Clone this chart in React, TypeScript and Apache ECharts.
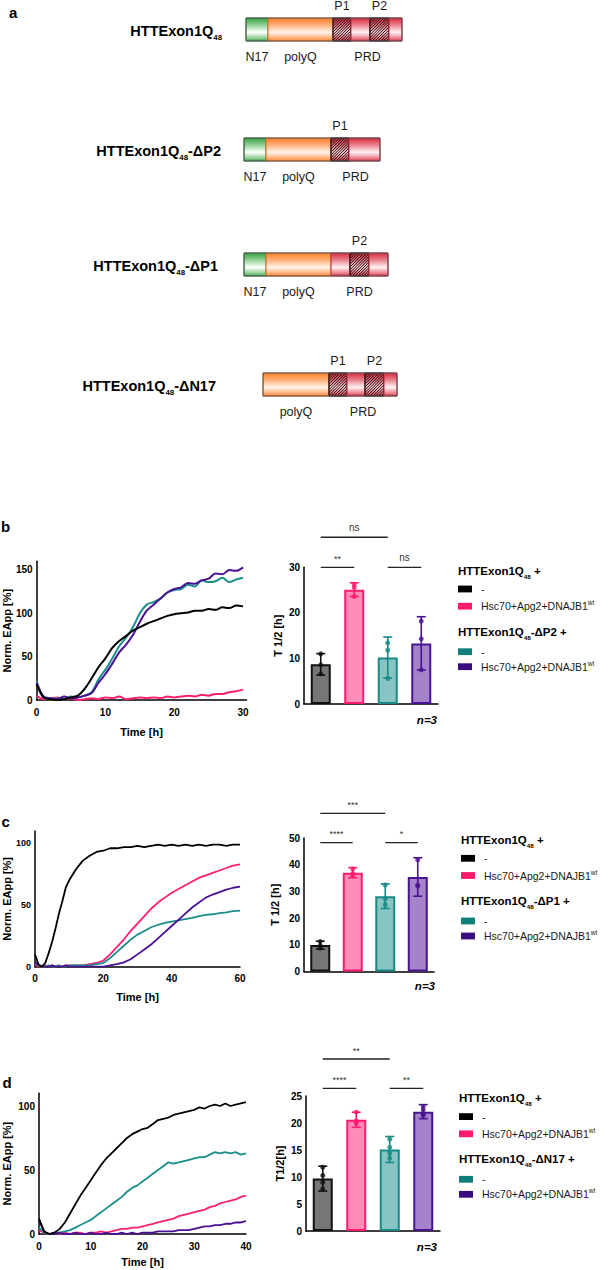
import React, { useEffect, useRef } from "react";
import * as echarts from "echarts";

const FONT = "'Liberation Sans', Arial, Helvetica, sans-serif";

// ---------------- Panel a: construct domain maps ----------------
const constructSuffixes = ["", "-ΔP2", "-ΔP1", "-ΔN17"];
const constructDomains = [
  ["N17", "polyQ", "P1", "PRD", "P2", "PRD"],
  ["N17", "polyQ", "P1", "PRD"],
  ["N17", "polyQ", "PRD", "P2", "PRD"],
  ["polyQ", "P1", "PRD", "P2", "PRD"],
];
const domainLengths = [
  [22, 65, 18, 19, 19, 13],
  [22, 65, 18, 31],
  [22, 65, 19, 19, 19],
  [66, 18, 18, 19, 13],
];

// ---------------- Panel b: HTTExon1Q48 vs ΔP2 ----------------
const timeB = [0, 1, 2, 3, 4, 5, 6, 7, 8, 9, 10, 11, 12, 13, 14, 15, 16, 17, 18, 19, 20, 21, 22, 23, 24, 25, 26, 27, 28, 29, 30];
const bBlack = [18, 3, 1, 0, 1, 3, 5, 13, 25, 38, 48, 60, 68, 74, 80, 84, 88, 91, 94, 97, 99, 100, 101, 103, 103, 105, 104, 107, 106, 109, 108];
const bPink = [5, 1, 2, 3, 1, 2, 0, 1, 2, 1, 3, 2, 4, 1, 2, 3, 2, 3, 2, 4, 3, 4, 5, 4, 6, 5, 7, 7, 9, 10, 12];
const bTeal = [22, 3, 1, 2, 1, 4, 3, 5, 9, 24, 35, 48, 62, 72, 84, 100, 110, 113, 117, 124, 127, 128, 133, 131, 138, 136, 137, 141, 136, 139, 141];
const bPurple = [20, 4, 2, 1, 4, 2, 3, 5, 8, 20, 30, 42, 55, 64, 75, 90, 103, 110, 117, 124, 128, 130, 135, 134, 138, 140, 146, 145, 150, 149, 153];
const catsB = ["Q48 −", "Q48 + Hsc70+Apg2+DNAJB1wt", "ΔP2 −", "ΔP2 + Hsc70+Apg2+DNAJB1wt"];
const bMeans = [8.7, 25.1, 10.2, 13.3];
const bSD = [2.35, 1.5, 4.5, 5.85];
const bDots = [[11.0, 8.6, 6.6], [26.2, 25.6, 23.6], [13.4, 11.8, 5.6], [18.2, 14.3, 7.5]];
const sigB = [
  { from: 0, to: 1, y: 30, text: "**" },
  { from: 2, to: 3, y: 30, text: "ns" },
  { from: 0, to: 2, y: 36.6, text: "ns" },
];

// ---------------- Panel c: HTTExon1Q48 vs ΔP1 ----------------
const timeC = [0, 1, 2, 3, 4, 5, 6, 7, 8, 9, 10, 12, 14, 16, 18, 20, 22, 24, 26, 28, 30, 32, 34, 36, 38, 40, 42, 44, 46, 48, 50, 52, 54, 56, 58, 60];
const cBlack = [10, 2, 0, 3, 11, 20, 31, 43, 53, 64, 70, 79, 86, 90, 93, 94, 96, 96, 97, 97, 98, 97, 98, 99, 98, 99, 98, 99, 98, 99, 98, 99, 99, 98, 99, 99];
const cPink = [2, 0, 0, 1, 0, 1, 0, 1, 0, 1, 1, 1, 1, 2, 3, 5, 10, 16, 22, 29, 35, 41, 47, 52, 56, 60, 63, 66, 69, 72, 74, 76, 78, 80, 82, 83];
const cTeal = [3, 1, 0, 0, 1, 0, 0, 1, 0, 0, 1, 1, 1, 1, 2, 3, 7, 12, 17, 22, 26, 29, 32, 34, 35.5, 36.5, 37.5, 38.5, 39.5, 41, 42, 42.5, 43.5, 44, 45, 45.5];
const cPurple = [4, 1, 0, 0, 0, 1, 0, 0, 0, 1, 0, 0, 0, 0, 0, 0, 1, 2, 3.5, 6, 10, 14, 18, 23, 28, 33, 38, 43, 48, 52, 56, 58.5, 60.5, 62.5, 64, 65];
const catsC = ["Q48 −", "Q48 + Hsc70+Apg2+DNAJB1wt", "ΔP1 −", "ΔP1 + Hsc70+Apg2+DNAJB1wt"];
const cMeans = [9.9, 37.0, 28.2, 35.4];
const cSD = [1.5, 1.9, 4.6, 7.2];
const cDots = [[11.2, 9.7, 8.8], [38.4, 36.6, 36.0], [32.4, 27.2, 25.0], [41.8, 32.4, 32.0]];
const sigC = [
  { from: 0, to: 1, y: 48.3, text: "****" },
  { from: 2, to: 3, y: 48.3, text: "*" },
  { from: 0, to: 2, y: 59.2, text: "***" },
];

// ---------------- Panel d: HTTExon1Q48 vs ΔN17 ----------------
const timeD = [0, 1, 2, 3, 4, 5, 6, 7, 8, 9, 10, 11, 12, 13, 14, 15, 16, 17, 18, 19, 20, 21, 22, 23, 24, 25, 26, 27, 28, 29, 30, 31, 32, 33, 34, 35, 36, 37, 38, 39, 40];
const dBlack = [12, 2, 0, 1, 4, 9, 16, 23, 30, 36, 42, 48, 54, 59, 63, 67, 71, 75, 78, 80, 82, 83, 86, 89, 90, 91, 93, 94, 95, 96, 97, 99, 98, 100, 101, 100, 102, 100, 101, 102, 103];
const dPink = [3, 1, 0, 1, 0, 1, 0, 1, 1, 0, 1, 1, 2, 1, 2, 3, 4, 4, 5, 5, 6, 7, 8, 9, 10, 11, 12, 14, 15, 16, 17, 18, 19, 21, 22, 24, 25, 26, 27, 29, 30];
const dTeal = [5, 1, 0, 1, 1, 2, 3, 5, 7, 9, 11, 14, 17, 20, 23, 26, 29, 33, 36, 38, 41, 44, 47, 50, 53, 56, 55, 56, 57, 58, 59, 60, 60, 62, 64, 63, 64, 63, 64, 62, 63];
const dPurple = [10, 2, 0, 0, 1, 0, 0, 1, 0, 0, 1, 0, 0, 1, 0, 0, 1, 0, 1, 0, 1, 1, 1, 2, 2, 2, 2, 3, 3, 3, 4, 5, 6, 6, 7, 7, 8, 8, 9, 9, 10];
const catsD = ["Q48 −", "Q48 + Hsc70+Apg2+DNAJB1wt", "ΔN17 −", "ΔN17 + Hsc70+Apg2+DNAJB1wt"];
const dMeans = [9.7, 20.6, 15.1, 22.1];
const dSD = [2.3, 1.4, 2.4, 1.3];
const dDots = [[11.8, 10.3, 9.0, 7.8], [22.0, 20.4, 20.2, 19.9], [17.0, 15.5, 14.4, 13.5], [23.0, 22.4, 21.6, 21.4]];
const sigD = [
  { from: 0, to: 1, y: 26.4, text: "****" },
  { from: 2, to: 3, y: 26.4, text: "**" },
  { from: 0, to: 2, y: 31.85, text: "**" },
];

// ---------------- styles ----------------
const LINE_COL = ["#000000", "#ff1f72", "#1a8f8a", "#4b0f96"];
const BAR_FILL = ["#767676", "#ff8db8", "#88c5c2", "#a583cb"];
const BAR_EDGE = ["#111111", "#ff1a70", "#178a85", "#4a138f"];
const SWATCH = ["#000000", "#ff1a6e", "#0f7f7a", "#3b0b80"];

const axisFont = { color: "#000", fontWeight: "bold" as const, fontFamily: FONT };

function lineX(grid: number, max: number, interval: number, nameGap: number) {
  return {
    type: "value", gridIndex: grid, min: 0, max, interval,
    axisLine: { show: true, onZero: false, lineStyle: { color: "#000", width: 1.5 } },
    axisTick: { show: false }, splitLine: { show: false },
    axisLabel: { ...axisFont, fontSize: 10, margin: 7, showMaxLabel: max % interval === 0 },
    name: "Time [h]", nameLocation: "middle", nameGap,
    nameTextStyle: { ...axisFont, fontSize: 11 },
  };
}
function lineY(grid: number, max: number, interval: number, nameGap: number, fs: number) {
  return {
    type: "value", gridIndex: grid, min: 0, max, interval,
    axisLine: { show: true, lineStyle: { color: "#000", width: 1.5 } },
    axisTick: { show: false }, splitLine: { show: false },
    axisLabel: { ...axisFont, fontSize: fs, margin: 4, showMaxLabel: max % interval === 0 },
    name: "Norm. EApp [%]", nameLocation: "middle", nameGap,
    nameTextStyle: { ...axisFont, fontSize: 11 },
  };
}
function barX(grid: number, cats: string[]) {
  return {
    type: "category", gridIndex: grid, data: cats,
    axisLine: { show: true, lineStyle: { color: "#000", width: 1.5 } },
    axisTick: { show: false }, axisLabel: { show: false }, splitLine: { show: false },
  };
}
function barY(grid: number, max: number, interval: number, name: string, nameGap: number) {
  return {
    type: "value", gridIndex: grid, min: 0, max, interval,
    axisLine: { show: true, lineStyle: { color: "#000", width: 1.5 } },
    axisTick: { show: false }, splitLine: { show: false },
    axisLabel: { ...axisFont, fontSize: 10, margin: 4 },
    name, nameLocation: "middle", nameGap,
    nameTextStyle: { ...axisFont, fontSize: 11 },
  };
}
function lineSeries(idx: number, times: number[], vals: number[], color: string, width: number, smooth: number | boolean) {
  return {
    type: "line", xAxisIndex: idx, yAxisIndex: idx, showSymbol: false, smooth,
    data: times.map((t, i) => [t, vals[i]]),
    lineStyle: { color, width }, itemStyle: { color }, z: 2,
  };
}
function barSeries(idx: number, means: number[]) {
  return {
    type: "bar", xAxisIndex: idx, yAxisIndex: idx, barWidth: 20, z: 2,
    data: means.map((v, i) => ({ value: v, itemStyle: { color: BAR_FILL[i], borderColor: BAR_EDGE[i], borderWidth: 2 } })),
  };
}
function errSeries(idx: number, means: number[], sds: number[]) {
  return {
    type: "custom", xAxisIndex: idx, yAxisIndex: idx, z: 5,
    data: means.map((m, i) => [i, m, sds[i]]),
    encode: { x: 0, y: 1 },
    renderItem: (params: any, api: any) => {
      const i = api.value(0), m = api.value(1), s = api.value(2);
      const top = api.coord([i, m + s]);
      const bot = api.coord([i, m - s]);
      const st = { stroke: BAR_EDGE[params.dataIndex], lineWidth: 1.6 };
      const hw = 4.5;
      return {
        type: "group",
        children: [
          { type: "line", shape: { x1: top[0], y1: top[1], x2: bot[0], y2: bot[1] }, style: st },
          { type: "line", shape: { x1: top[0] - hw, y1: top[1], x2: top[0] + hw, y2: top[1] }, style: st },
          { type: "line", shape: { x1: bot[0] - hw, y1: bot[1], x2: bot[0] + hw, y2: bot[1] }, style: st },
        ],
      };
    },
  };
}
function dotSeries(idx: number, dots: number[][]) {
  const data: any[] = [];
  dots.forEach((arr, i) => arr.forEach((v) => data.push({ value: [i, v], itemStyle: { color: BAR_EDGE[i] } })));
  return { type: "scatter", xAxisIndex: idx, yAxisIndex: idx, symbolSize: 5, z: 6, data };
}

const option: any = {
  animation: false,
  backgroundColor: "#ffffff",
  grid: [
    { left: 36, top: 561.3, width: 210.5, height: 138.7 },
    { left: 304, top: 567.3, width: 134, height: 136.7 },
    { left: 35, top: 831, width: 205, height: 135.7 },
    { left: 304, top: 838, width: 130, height: 133.5 },
    { left: 39, top: 1093.2, width: 207, height: 140.8 },
    { left: 306, top: 1096, width: 134, height: 135 },
  ],
  xAxis: [
    lineX(0, 30.5, 10, 26), barX(1, catsB),
    lineX(2, 60, 20, 25), barX(3, catsC),
    lineX(4, 40, 10, 22), barX(5, catsD),
  ],
  yAxis: [
    lineY(0, 160, 50, 23, 10), barY(1, 30, 10, "T 1/2 [h]", 21),
    lineY(2, 110, 50, 23, 9), barY(3, 50, 10, "T 1/2 [h]", 24),
    lineY(4, 110, 50, 27, 10), barY(5, 25, 5, "T1/2[h]", 21),
  ],
  series: [
    lineSeries(0, timeB, bPink, LINE_COL[1], 2, 0.3),
    lineSeries(0, timeB, bTeal, LINE_COL[2], 2, 0.3),
    lineSeries(0, timeB, bPurple, LINE_COL[3], 2, 0.3),
    lineSeries(0, timeB, bBlack, LINE_COL[0], 2, 0.3),
    barSeries(1, bMeans), errSeries(1, bMeans, bSD), dotSeries(1, bDots),
    lineSeries(2, timeC, cPink, LINE_COL[1], 1.8, false),
    lineSeries(2, timeC, cTeal, LINE_COL[2], 1.8, false),
    lineSeries(2, timeC, cPurple, LINE_COL[3], 1.8, false),
    lineSeries(2, timeC, cBlack, LINE_COL[0], 1.8, false),
    barSeries(3, cMeans), errSeries(3, cMeans, cSD), dotSeries(3, cDots),
    lineSeries(4, timeD, dPink, LINE_COL[1], 1.8, false),
    lineSeries(4, timeD, dTeal, LINE_COL[2], 1.8, false),
    lineSeries(4, timeD, dPurple, LINE_COL[3], 1.8, false),
    lineSeries(4, timeD, dBlack, LINE_COL[0], 1.8, false),
    barSeries(5, dMeans), errSeries(5, dMeans, dSD), dotSeries(5, dDots),
  ],
};

// ---------------- graphic helpers ----------------
const DOMAIN_COL: Record<string, [string, string, string, string]> = {
  N17: ["#34a042", "#8fd093", "#ffffff", "#2f8a36"],
  polyQ: ["#ff7e2a", "#ffae76", "#fff3ea", "#e06a18"],
  PRD: ["#d62a3e", "#e9808c", "#fff2f3", "#b8283a"],
  P1: ["#c82236", "#e07080", "#f8d8dc", "#3a1a1a"],
  P2: ["#c82236", "#e07080", "#f8d8dc", "#3a1a1a"],
};
function grad(kind: string) {
  const [edge, half, mid] = DOMAIN_COL[kind];
  return new echarts.graphic.LinearGradient(0, 0, 0, 1, [
    { offset: 0, color: edge },
    { offset: 0.3, color: half },
    { offset: 0.62, color: mid },
    { offset: 0.88, color: half },
    { offset: 1, color: edge },
  ]);
}
function hatch(x: number, y: number, w: number, h: number, step: number) {
  const out: any[] = [];
  for (let k = -h; k < w; k += step) {
    const s0 = Math.max(0, -k), s1 = Math.min(h, w - k);
    if (s1 > s0) {
      out.push({
        type: "line", silent: true,
        shape: { x1: x + k + s0, y1: y + h - s0, x2: x + k + s1, y2: y + h - s1 },
        style: { stroke: "#24090c", lineWidth: 1 },
      });
    }
  }
  return out;
}
function txt(x: number, y: number, text: string, extra: any = {}) {
  return {
    type: "text", x, y, silent: true,
    style: { text, fontFamily: FONT, fontSize: 12.5, fill: "#1a1a1a", align: "center", verticalAlign: "middle", ...extra },
  };
}
function subTitle(x: number, y: number, tail: string, size: number, align: string) {
  return {
    type: "text", x, y, silent: true,
    style: {
      text: "{m|HTTExon1Q}{s|48}" + (tail ? "{m|" + tail + "}" : ""),
      align, verticalAlign: "middle",
      rich: {
        m: { fontFamily: FONT, fontWeight: "bold", fontSize: size, lineHeight: size * 1.45, fill: "#000" },
        s: { fontFamily: FONT, fontWeight: "bold", fontSize: size * 0.54, lineHeight: size * 0.55, verticalAlign: "bottom", fill: "#000" },
      },
    },
  };
}

const A_ROWS = [
  { x: 246, y: 18, tr: 222 },
  { x: 244, y: 138, tr: 221 },
  { x: 244, y: 253, tr: 218 },
  { x: 263, y: 373, tr: 216 },
];
const BAR_H = 23;

function panelA() {
  const els: any[] = [];
  constructDomains.forEach((doms, r) => {
    const row = A_ROWS[r];
    let x = row.x;
    const y = row.y;
    let prdStart = -1;
    let prdEnd = -1;
    doms.forEach((d, j) => {
      const w = domainLengths[r][j];
      els.push({ type: "rect", silent: true, shape: { x, y, width: w, height: BAR_H }, style: { fill: grad(d), stroke: DOMAIN_COL[d][3], lineWidth: 1 } });
      if (d === "P1" || d === "P2") {
        els.push(...hatch(x, y, w, BAR_H, 2.8));
        els.push({ type: "rect", silent: true, shape: { x, y, width: w, height: BAR_H }, style: { fill: "none", stroke: "#3a1a1a", lineWidth: 0.9 } });
        els.push(txt(x + w / 2, y - 12, d));
      }
      if (d === "N17" || d === "polyQ") els.push(txt(x + w / 2, y + BAR_H + 16, d));
      if (d !== "N17" && d !== "polyQ") {
        if (prdStart < 0) prdStart = x;
        prdEnd = x + w;
      }
      x += w;
    });
    els.push({ type: "rect", silent: true, shape: { x: row.x, y, width: x - row.x, height: BAR_H }, style: { fill: "none", stroke: "#5a5a5a", lineWidth: 1 } });
    els.push(txt((prdStart + prdEnd) / 2, y + BAR_H + 16, "PRD"));
    els.push(subTitle(row.tr, y + BAR_H / 2 + 1, constructSuffixes[r], 14.5, "right"));
  });
  return els;
}

function legendBlock(x: number, T: number, suffix: string) {
  const els: any[] = [];
  const rows = [
    { dy: 18.3, c: SWATCH[0], label: "-" },
    { dy: 35.5, c: SWATCH[1], label: "hsc" },
    { dy: 81, c: SWATCH[2], label: "-" },
    { dy: 96, c: SWATCH[3], label: "hsc" },
  ];
  els.push(subTitle(x, T, " +", 11.5, "left"));
  els.push(subTitle(x, T + 61, suffix + " +", 11.5, "left"));
  rows.forEach((r) => {
    els.push({ type: "rect", silent: true, shape: { x, y: T + r.dy - 3.4, width: 14, height: 6.8 }, style: { fill: r.c } });
    if (r.label === "-") {
      els.push(txt(x + 23, T + r.dy, "-", { align: "left", fontSize: 10.5 }));
    } else {
      els.push({
        type: "text", x: x + 23, y: T + r.dy, silent: true,
        style: {
          text: "{r|Hsc70+Apg2+DNAJB1}{p|wt}", align: "left", verticalAlign: "middle",
          rich: {
            r: { fontFamily: FONT, fontSize: 10.5, lineHeight: 14, fill: "#1a1a1a" },
            p: { fontFamily: FONT, fontSize: 6.5, lineHeight: 6, verticalAlign: "top", fill: "#1a1a1a" },
          },
        },
      });
    }
  });
  return els;
}

function sigEls(chart: any, idx: number, cats: string[], sigs: any[]) {
  const els: any[] = [];
  sigs.forEach((s) => {
    const p1 = chart.convertToPixel({ xAxisIndex: idx, yAxisIndex: idx }, [cats[s.from], s.y]);
    const p2 = chart.convertToPixel({ xAxisIndex: idx, yAxisIndex: idx }, [cats[s.to], s.y]);
    els.push({ type: "line", silent: true, shape: { x1: p1[0], y1: p1[1], x2: p2[0], y2: p2[1] }, style: { stroke: "#222", lineWidth: 1.3 } });
    const star = s.text.indexOf("*") >= 0;
    els.push(txt((p1[0] + p2[0]) / 2, p1[1] - (star ? 8.5 : 10), s.text, { fontSize: star ? 9 : 10, fill: "#333" }));
  });
  return els;
}

export default function App() {
  const ref = useRef<HTMLDivElement>(null);
  useEffect(() => {
    if (!ref.current) return;
    const chart = echarts.init(ref.current, null, { renderer: "svg", width: 608, height: 1270 });
    chart.setOption(option);
    const els: any[] = [];
    els.push(...panelA());
    const lbl = (x: number, y: number, t: string) => txt(x, y, t, { align: "left", fontWeight: "bold", fontSize: 15, fill: "#000" });
    els.push(lbl(9, 12.5, "a"), lbl(1, 526, "b"), lbl(1.5, 821, "c"), lbl(2.5, 1082, "d"));
    els.push(...legendBlock(458, 570.7, "-ΔP2"));
    els.push(...legendBlock(461, 840, "-ΔP1"));
    els.push(...legendBlock(459, 1098.3, "-ΔN17"));
    const n3 = (x: number, y: number) => txt(x, y, "n=3", { align: "right", fontWeight: "bold", fontStyle: "italic", fontSize: 11.5, fill: "#000" });
    els.push(n3(437, 720), n3(435, 985.7), n3(437, 1247));
    els.push(...sigEls(chart, 1, catsB, sigB));
    els.push(...sigEls(chart, 3, catsC, sigC));
    els.push(...sigEls(chart, 5, catsD, sigD));
    chart.setOption({ graphic: { elements: els } });
    return () => chart.dispose();
  }, []);
  return <div ref={ref} style={{ position: "absolute", left: 0, top: 0, width: 608, height: 1270, background: "#fff" }} />;
}
